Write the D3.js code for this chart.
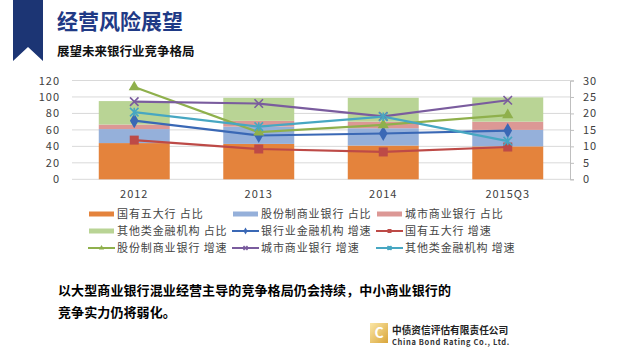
<!DOCTYPE html>
<html><head><meta charset="utf-8">
<script src="https://cdn.jsdelivr.net/npm/d3@7/dist/d3.min.js"></script>
<style>
body{margin:0;background:#fff;}
svg{display:block;}
text{font-family:"Noto Sans CJK SC","Liberation Sans",sans-serif;}
</style></head>
<body><svg id="c" width="640" height="360"></svg>
<script>
const categories = ["2012","2013","2014","2015Q3"];
// share (left axis, %)
const shareBig5   = [44, 43, 41, 40];
const shareJoint  = [17, 21, 21, 20];
const shareCity   = [5.5, 7, 8, 10];
const shareOther  = [28.5, 28, 29, 29.5];
// growth (right axis, %)
const growthAll   = [17.8, 13.3, 13.9, 14.8];
const growthBig5  = [11.9, 9.2, 8.3, 9.8];
const growthJoint = [28.0, 14.3, 16.5, 19.5];
const growthCity  = [23.6, 23.0, 19.1, 24.0];
const growthOther = [20.4, 16.0, 19.0, 11.6];
const leftTicks = [0,20,40,60,80,100,120];
const rightTicks = [0,5,10,15,20,25,30];

const svg = d3.select("#c");
const navy = "#1c3574";

// header bookmark
svg.append("path").attr("d","M13,0 H43 V61 L28,47 L13,61 Z").attr("fill",navy);
svg.append("text").attr("x",57).attr("y",29).attr("font-size",21).attr("font-weight","bold")
  .attr("fill","#1f3a86").text("经营风险展望");
svg.append("text").attr("x",57).attr("y",56).attr("font-size",12.5).attr("font-weight","bold")
  .attr("fill","#111").text("展望未来银行业竞争格局");

const x = d3.scaleBand().domain(categories).range([72,570]).paddingInner(0.43).paddingOuter(0.215);
const yL = d3.scaleLinear().domain([0,120]).range([179.3,80.5]);
const yR = d3.scaleLinear().domain([0,30]).range([179.3,80.5]);

// gridlines
svg.append("g").selectAll("line").data(leftTicks).join("line")
  .attr("x1",72).attr("x2",570).attr("y1",d=>yL(d)).attr("y2",d=>yL(d))
  .attr("stroke","#d9d9d9").attr("stroke-width",1);

// left axis labels
const axL = svg.append("g").attr("transform","translate(72,0)")
  .call(d3.axisLeft(yL).tickValues(leftTicks).tickSize(0).tickPadding(12));
axL.select(".domain").remove();
axL.selectAll("text").attr("font-size",11).attr("fill","#404040").attr("letter-spacing",1)
  .attr("font-family","Liberation Sans, sans-serif");

// right axis
const axR = svg.append("g").attr("transform","translate(570,0)")
  .call(d3.axisRight(yR).tickValues(rightTicks).tickSize(4).tickPadding(9));
axR.select(".domain").attr("stroke","#bfbfbf");
axR.selectAll("line").attr("stroke","#bfbfbf");
axR.selectAll("text").attr("font-size",11).attr("fill","#404040").attr("letter-spacing",1)
  .attr("font-family","Liberation Sans, sans-serif");

// x labels
const axX = svg.append("g").attr("transform","translate(0,180)")
  .call(d3.axisBottom(x).tickSize(0).tickPadding(10));
axX.select(".domain").remove();
axX.selectAll("text").attr("font-size",11).attr("fill","#404040").attr("letter-spacing",1)
  .attr("font-family","Liberation Sans, sans-serif");

// stacked bars
const shareSeries = [
  {name:"国有五大行 占比", values:shareBig5, color:"#e4833c"},
  {name:"股份制商业银行 占比", values:shareJoint, color:"#95b0da"},
  {name:"城市商业银行 占比", values:shareCity, color:"#dc9895"},
  {name:"其他类金融机构 占比", values:shareOther, color:"#b9d495"}
];
const rows = categories.map((c,i)=>{const o={cat:c}; shareSeries.forEach((s,k)=>o["s"+k]=s.values[i]); return o;});
const stack = d3.stack().keys(shareSeries.map((s,k)=>"s"+k))(rows);
svg.append("g").selectAll("g").data(stack).join("g").attr("fill",(d,k)=>shareSeries[k].color)
  .selectAll("rect").data(d=>d).join("rect")
  .attr("x",d=>x(d.data.cat)).attr("width",x.bandwidth())
  .attr("y",d=>yL(d[1])).attr("height",d=>yL(d[0])-yL(d[1]));

// line series
const lineSeries = [
  {name:"银行业金融机构 增速", values:growthAll, color:"#3a68b5", marker:"diamond"},
  {name:"国有五大行 增速", values:growthBig5, color:"#bd4a47", marker:"square"},
  {name:"股份制商业银行 增速", values:growthJoint, color:"#8fb04c", marker:"triangle"},
  {name:"城市商业银行 增速", values:growthCity, color:"#7a5c9e", marker:"x"},
  {name:"其他类金融机构 增速", values:growthOther, color:"#47a7c2", marker:"star"}
];
function marker(g, type, cx, cy, color, s){
  if(type==="diamond") g.append("path").attr("d",d3.symbol(d3.symbolDiamond, s*s*0.9)()).attr("transform",`translate(${cx},${cy})`).attr("fill",color);
  else if(type==="square") g.append("rect").attr("x",cx-s/2).attr("y",cy-s/2).attr("width",s).attr("height",s).attr("fill",color);
  else if(type==="triangle") g.append("path").attr("d",d3.symbol(d3.symbolTriangle, s*s*0.75)()).attr("transform",`translate(${cx},${cy})`).attr("fill",color);
  else if(type==="x") g.append("path").attr("d",`M${cx-s/2},${cy-s/2}L${cx+s/2},${cy+s/2}M${cx-s/2},${cy+s/2}L${cx+s/2},${cy-s/2}`).attr("stroke",color).attr("stroke-width",1.6);
  else if(type==="star") g.append("path").attr("d",`M${cx-s/2},${cy-s/2}L${cx+s/2},${cy+s/2}M${cx-s/2},${cy+s/2}L${cx+s/2},${cy-s/2}M${cx},${cy-s/2}L${cx},${cy+s/2}`).attr("stroke",color).attr("stroke-width",1.6);
}
const line = d3.line().x((d,i)=>x(categories[i])+x.bandwidth()/2).y(d=>yR(d));
const lg = svg.append("g");
lineSeries.forEach(s=>{
  lg.append("path").attr("d",line(s.values)).attr("fill","none").attr("stroke",s.color).attr("stroke-width",2.2);
});
lineSeries.forEach(s=>{
  s.values.forEach((v,i)=>{
    marker(lg, s.marker, x(categories[i])+x.bandwidth()/2, yR(v), s.color, s.marker==="square"?9:8.5);
  });
});

// legend
const legendItems = [
  {kind:"bar", ...shareSeries[0]}, {kind:"bar", ...shareSeries[1]}, {kind:"bar", ...shareSeries[2]},
  {kind:"bar", ...shareSeries[3]}, {kind:"line", ...lineSeries[0]}, {kind:"line", ...lineSeries[1]},
  {kind:"line", ...lineSeries[2]}, {kind:"line", ...lineSeries[3]}, {kind:"line", ...lineSeries[4]}
];
const colX = [89, 233, 377];
const rowY = [214, 231, 248];
const leg = svg.append("g");
legendItems.forEach((it,i)=>{
  const cx = colX[i%3], cy = rowY[Math.floor(i/3)];
  if(it.kind==="bar"){
    leg.append("rect").attr("x",cx).attr("y",cy-2.5).attr("width",25).attr("height",5).attr("fill",it.color);
  } else {
    leg.append("line").attr("x1",cx-1).attr("x2",cx+26).attr("y1",cy).attr("y2",cy).attr("stroke",it.color).attr("stroke-width",2);
    marker(leg, it.marker, cx+12.5, cy, it.color, 4);
  }
  leg.append("text").attr("x",cx+28).attr("y",cy+4).attr("font-size",11).attr("letter-spacing",0.9)
    .attr("fill","#444").text(it.name);
});

// bottom text
svg.append("text").attr("x",58).attr("y",295).attr("font-size",13).attr("font-weight","bold").attr("fill","#000")
  .attr("letter-spacing",0.1)
  .text("以大型商业银行混业经营主导的竞争格局仍会持续，中小商业银行的");
svg.append("text").attr("x",58).attr("y",317).attr("font-size",13).attr("font-weight","bold").attr("fill","#000")
  .attr("letter-spacing",0.1)
  .text("竞争实力仍将弱化。");

// logo
const grad = svg.append("defs").append("linearGradient").attr("id","gold").attr("x1","0").attr("y1","0").attr("x2","1").attr("y2","1");
grad.append("stop").attr("offset","0").attr("stop-color","#fbe7a6");
grad.append("stop").attr("offset","1").attr("stop-color","#d9a53a");
svg.append("rect").attr("x",370).attr("y",323).attr("width",18).attr("height",20).attr("fill","url(#gold)");
svg.append("text").attr("x",379).attr("y",338).attr("text-anchor","middle").attr("font-size",14).attr("font-weight","bold")
  .attr("fill","#fff").attr("font-family","Liberation Sans, sans-serif").text("C");
svg.append("text").attr("x",392).attr("y",334).attr("font-size",9.7).attr("font-weight","bold").attr("fill","#222")
  .text("中债资信评估有限责任公司");
svg.append("text").attr("x",392).attr("y",345).attr("font-size",7.5).attr("font-weight","bold").attr("fill","#333")
  .attr("letter-spacing",0.65).attr("font-family","Liberation Sans, sans-serif").text("China Bond Rating Co., Ltd.");
</script></body></html>
